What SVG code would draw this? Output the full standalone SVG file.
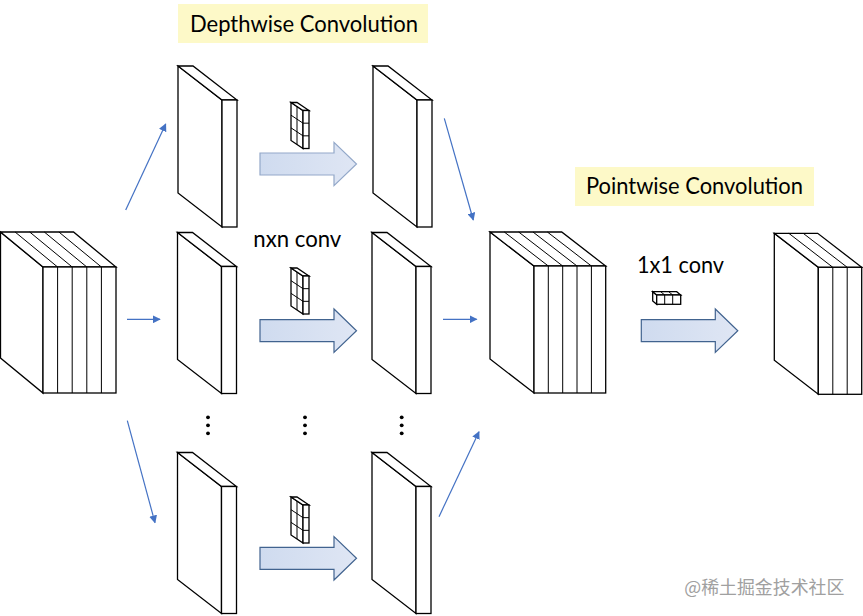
<svg xmlns="http://www.w3.org/2000/svg" xmlns:xlink="http://www.w3.org/1999/xlink" width="863" height="616" viewBox="0 0 863 616">
<style>
.ln{fill:#fff;stroke:#000;stroke-width:1.3;stroke-linejoin:miter}
.gl{fill:none;stroke:#000;stroke-width:1}
.con{stroke:#4472c4;stroke-width:1.2;fill:none}
.lbl{font-family:Lato,"Open Sans","Noto Sans",sans-serif;font-size:22.5px;fill:#000}
.ba{fill:url(#bg);stroke:#41638f;stroke-width:1.2}
.ba2{fill:url(#bg);stroke:#93a8c9;stroke-width:1.2}
.dot{fill:#000}
</style>
<defs>
<linearGradient id="bg" x1="0" y1="0" x2="1" y2="0">
<stop offset="0" stop-color="#cfdbef"/>
<stop offset="1" stop-color="#dfe6f4"/>
</linearGradient>
<marker id="ah" viewBox="0 0 10 10" refX="9" refY="5" markerWidth="8" markerHeight="8" markerUnits="userSpaceOnUse" orient="auto">
<path d="M0,0 L10,5 L0,10 z" fill="#4472c4"/>
</marker>
<g id="slab">
<path class="ln" d="M0,0 L44,34 L44,161 L0,127 Z"/>
<path class="ln" d="M0,0 L15,0 L59,34 L44,34 Z"/>
<rect class="ln" x="44" y="34" width="15" height="127"/>
</g>
<g id="kern">
<path class="ln" d="M0,0 L12,8 L12,46 L0,38 Z" stroke-width="1"/>
<path class="ln" d="M0,0 L6,0 L18,8 L12,8 Z" stroke-width="1"/>
<rect class="ln" x="12" y="8" width="6" height="38" stroke-width="1"/>
<path class="gl" d="M6,4 V42 M0,12.67 L12,20.67 M0,25.33 L12,33.33 M12,20.67 H18 M12,33.33 H18"/>
</g>
<path id="barrow" d="M0,-11 H74 V-21.7 L96.5,0 L74,21.7 V11 H0 Z"/>
</defs>

<g id="title-depthwise">
<rect x="178" y="4" width="250" height="39" fill="#fdf9c8"/>
<text class="lbl" x="190" y="31.5" textLength="228" lengthAdjust="spacingAndGlyphs">Depthwise Convolution</text>
</g>
<g id="title-pointwise">
<rect x="575" y="167" width="239" height="39" fill="#fdf9c8"/>
<text class="lbl" x="586" y="194" textLength="217" lengthAdjust="spacingAndGlyphs">Pointwise Convolution</text>
</g>

<g id="input-stack">
<path class="ln" d="M0.5,232 L43,267 L43,393 L0.5,358 Z"/>
<path class="ln" d="M0.5,232 L73.5,232 L116,267 L43,267 Z"/>
<rect class="ln" x="43" y="267" width="73" height="126"/>
<path class="gl" d="M15.1,232 L57.6,267 M29.7,232 L72.2,267 M44.3,232 L86.8,267 M58.9,232 L101.4,267 M57.6,267 V393 M72.2,267 V393 M86.8,267 V393 M101.4,267 V393"/>
</g>

<g id="dw-in-1"><use xlink:href="#slab" x="178" y="66"/></g>
<g id="dw-in-2"><use xlink:href="#slab" x="177.5" y="232.5"/></g>
<g id="dw-in-3"><use xlink:href="#slab" x="177.5" y="452.5"/></g>
<g id="dw-out-1"><use xlink:href="#slab" x="373" y="66"/></g>
<g id="dw-out-2"><use xlink:href="#slab" x="372" y="232.5"/></g>
<g id="dw-out-3"><use xlink:href="#slab" x="372" y="452.5"/></g>

<g id="kernels">
<use xlink:href="#kern" x="291" y="102.5"/>
<use xlink:href="#kern" x="291" y="268"/>
<use xlink:href="#kern" x="291" y="497"/>
</g>

<g id="mid-stack">
<path class="ln" d="M490,232 L534,266 L534,393 L490,359 Z"/>
<path class="ln" d="M490,232 L561.7,232 L605.7,266 L534,266 Z"/>
<rect class="ln" x="534" y="266" width="71.7" height="127"/>
<path class="gl" d="M504.3,232 L548.3,266 M518.7,232 L562.7,266 M533,232 L577,266 M547.4,232 L591.4,266 M548.3,266 V393 M562.7,266 V393 M577,266 V393 M591.4,266 V393"/>
</g>

<g id="out-stack">
<path class="ln" d="M774.3,233.3 L818.3,267.3 L818.3,394.3 L774.3,360.3 Z"/>
<path class="ln" d="M774.3,233.3 L817.7,233.3 L861.7,267.3 L818.3,267.3 Z"/>
<rect class="ln" x="818.3" y="267.3" width="43.4" height="127"/>
<path class="gl" d="M788.8,233.3 L832.8,267.3 M803.2,233.3 L847.2,267.3 M832.8,267.3 V394.3 M847.2,267.3 V394.3"/>
</g>

<g id="pw-kernel">
<path class="ln" d="M652.7,291.7 L656.7,295 L656.7,304.3 L652.7,301 Z" stroke-width="1"/>
<path class="ln" d="M652.7,291.7 L676.7,291.7 L680.7,295 L656.7,295 Z" stroke-width="1"/>
<rect class="ln" x="656.7" y="295" width="24" height="9.3" stroke-width="1"/>
<path class="gl" d="M660.7,291.7 L664.7,295 M668.7,291.7 L672.7,295 M664.7,295 V304.3 M672.7,295 V304.3"/>
</g>

<g id="labels">
<text class="lbl" x="253.3" y="247.3" textLength="88" lengthAdjust="spacingAndGlyphs">nxn conv</text>
<text class="lbl" x="637" y="273.3" textLength="87" lengthAdjust="spacingAndGlyphs">1x1 conv</text>
</g>

<g id="dots">
<circle class="dot" cx="208" cy="417.3" r="1.9"/><circle class="dot" cx="208" cy="425.3" r="1.9"/><circle class="dot" cx="208" cy="433.3" r="1.9"/>
<circle class="dot" cx="305" cy="417.3" r="1.9"/><circle class="dot" cx="305" cy="425.3" r="1.9"/><circle class="dot" cx="305" cy="433.3" r="1.9"/>
<circle class="dot" cx="401.7" cy="417.3" r="1.9"/><circle class="dot" cx="401.7" cy="425.3" r="1.9"/><circle class="dot" cx="401.7" cy="433.3" r="1.9"/>
</g>

<g id="connectors">
<line class="con" x1="125.7" y1="210" x2="165.7" y2="124" marker-end="url(#ah)"/>
<line class="con" x1="127" y1="319.3" x2="160" y2="319.3" marker-end="url(#ah)"/>
<line class="con" x1="127.3" y1="420.7" x2="155" y2="522.7" marker-end="url(#ah)"/>
<line class="con" x1="444.3" y1="118.3" x2="473.3" y2="220" marker-end="url(#ah)"/>
<line class="con" x1="443" y1="319.3" x2="476.7" y2="319.3" marker-end="url(#ah)"/>
<line class="con" x1="439" y1="516.7" x2="479" y2="431.7" marker-end="url(#ah)"/>
<use xlink:href="#barrow" class="ba2" x="260" y="164"/>
<use xlink:href="#barrow" class="ba" x="260" y="330.7"/>
<use xlink:href="#barrow" class="ba" x="260" y="558.3"/>
<use xlink:href="#barrow" class="ba" x="641.3" y="330.7"/>
</g>

<text x="684.3" y="593.5" textLength="160" lengthAdjust="spacingAndGlyphs" font-family="'Noto Sans CJK SC',sans-serif" font-size="18" fill="#a0a0a0">@稀土掘金技术社区</text>
</svg>
